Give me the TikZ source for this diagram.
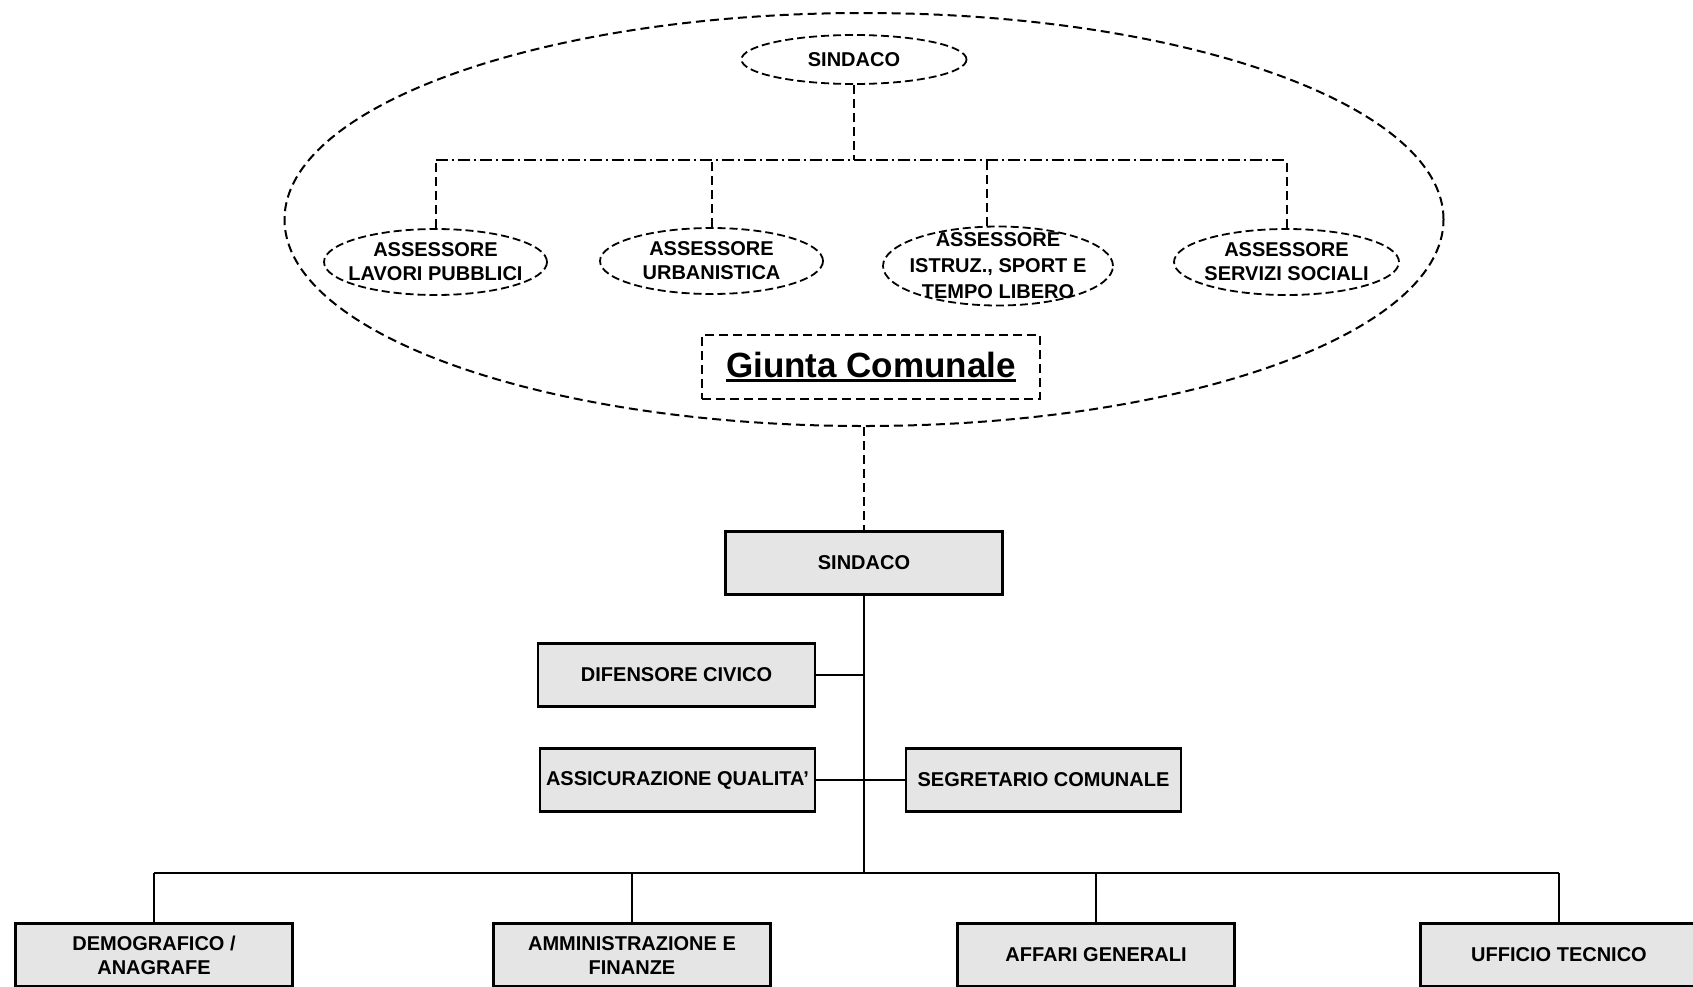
\documentclass[tikz,border=0pt]{standalone}
\usepackage{fontspec}
\setmainfont{Liberation Sans}
\usetikzlibrary{shapes.geometric}

\newcommand{\sottolinea}[1]{\setbox0\hbox{#1}\rlap{\rule[-4pt]{\wd0}{2.5pt}}\box0}

\begin{document}
\begin{tikzpicture}[x=1pt, y=-1pt,
    font=\bfseries\fontsize{20}{24}\selectfont,
    ufficio/.style ={rectangle, draw, line width=2.6pt, fill=black!10, minimum width=277pt, minimum height=63pt, align=center, inner sep=0pt},
    assessore/.style ={ellipse, draw, line width=1.8pt, dash pattern=on 8pt off 4pt, minimum width=223pt, minimum height=66pt, inner sep=0pt},
    testo/.style ={align=center, inner sep=0pt},
    tratteggio/.style ={line width=2pt, dash pattern=on 9pt off 5pt},
    puntolinea/.style ={line width=1.3pt, dash pattern=on 12pt off 4pt on 2pt off 4pt},
    linea/.style ={line width=2.2pt}]
   \useasboundingbox (0,0) rectangle (1693,986);
   \clip (0,0) rectangle (1693,986);

   % giunta comunale
   \node[ellipse, draw, tratteggio, minimum width=1159pt, minimum height=413pt] (giunta) at (864,219.5) {};
   \node[assessore, minimum width=225pt, minimum height=49pt] (sindG) at (854,59.5) {SINDACO};
   \node[assessore] (ass1) [label={[testo]center:{ASSESSORE\\LAVORI PUBBLICI}}] at (435.5,262) {};
   \node[assessore] (ass2) [label={[testo]center:{ASSESSORE\\URBANISTICA}}] at (711.5,261) {};
   \node[assessore, minimum width=230pt, minimum height=79pt] (ass3) [label={[testo, font=\bfseries\fontsize{20}{26}\selectfont]center:{ASSESSORE\\ISTRUZ., SPORT E\\TEMPO LIBERO}}] at (998,266) {};
   \node[assessore, minimum width=225pt] (ass4) [label={[testo]center:{ASSESSORE\\SERVIZI SOCIALI}}] at (1286.5,262) {};
   \node[rectangle, draw, tratteggio, minimum width=338pt, minimum height=64pt, font=\bfseries\fontsize{35}{40}\selectfont] (titolo) at (871,367) {\sottolinea{Giunta Comunale}};

   \coordinate (snodo) at (854,160);
   \coordinate (ass3top) at ([xshift=-11pt]ass3.north);
   \draw[tratteggio] (sindG) -- (snodo);
   \draw[puntolinea] (snodo -| ass1.north) -- (snodo -| ass4.north);
   \foreach \n in {ass1.north,ass2.north,ass3top,ass4.north}
     \draw[tratteggio] (\n) -- (\n |- snodo);

   % organigramma
   \node[ufficio] (sindB) at (864,563) {SINDACO};
   \node[ufficio] (dif) at (676.5,675) {DIFENSORE CIVICO};
   \node[ufficio, minimum width=275pt] (qual) at (677.5,780) {ASSICURAZIONE QUALITA'};
   \node[ufficio, minimum width=275pt] (segr) at (1043.5,780) {SEGRETARIO COMUNALE};
   \node[ufficio] (uff1) at (154,955) {DEMOGRAFICO /\\ANAGRAFE};
   \node[ufficio] (uff2) at (632,955) {AMMINISTRAZIONE E\\FINANZE};
   \node[ufficio] (uff3) at (1096,955) {AFFARI GENERALI};
   \node[ufficio] (uff4) at (1559,955) {UFFICIO TECNICO};

   \draw[tratteggio] (giunta) -- (sindB);
   \coordinate (bus) at (864,873);
   \draw[linea] (sindB) -- (bus);
   \draw[linea] (dif) -- (dif -| sindB);
   \draw[linea] (qual) -- (segr);
   \draw[linea] (bus -| uff1.north) -- (bus -| uff4.north);
   \foreach \n in {uff1,uff2,uff3,uff4}
     \draw[linea] (\n) -- (\n |- bus);
 \end{tikzpicture}
\end{document}
